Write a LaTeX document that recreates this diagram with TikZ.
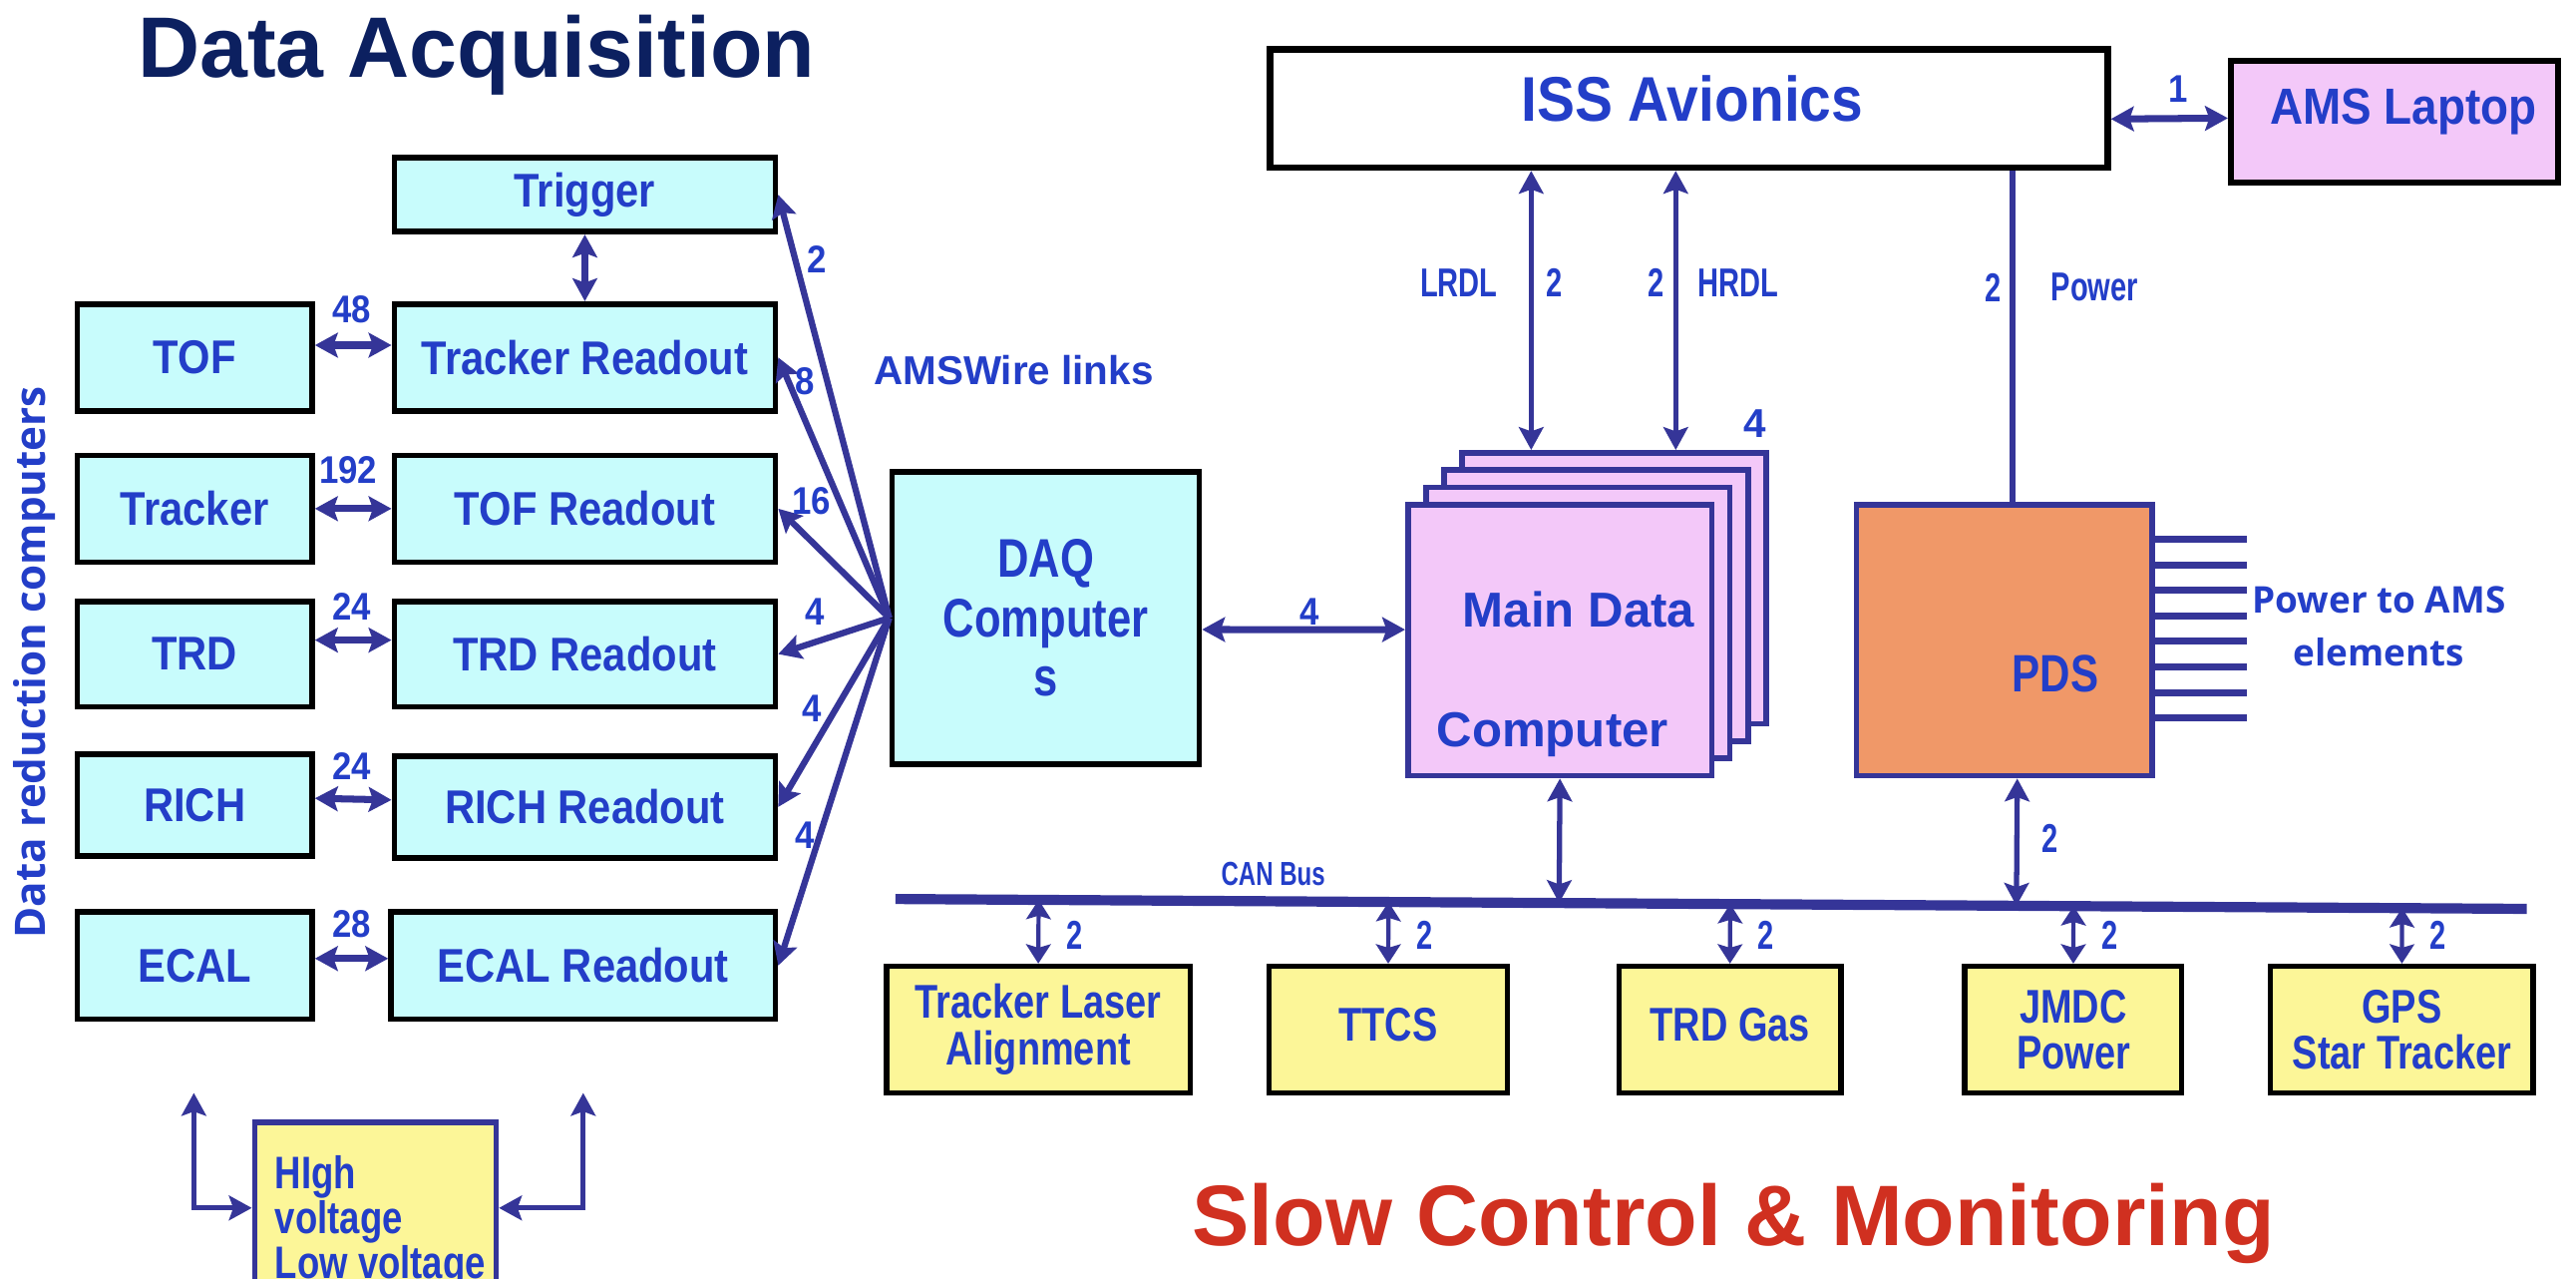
\documentclass[tikz,border=0pt]{standalone}
\usepackage{fontspec}
\setmainfont{Liberation Sans}
\newfontfamily\condf[FakeStretch=0.9]{Liberation Sans}
\newfontfamily\boxf[FakeStretch=0.88]{Liberation Sans}
\newfontfamily\narrowf[FakeStretch=0.8]{Liberation Sans}
\newfontfamily\vnarrowf[FakeStretch=0.72]{Liberation Sans}
\newfontfamily\opensf{Open Sans}
\usetikzlibrary{arrows.meta,calc}
\definecolor{navy}{RGB}{53,53,152}
\definecolor{txtblue}{RGB}{35,62,200}
\definecolor{cyanfill}{RGB}{200,252,252}
\definecolor{pinkfill}{RGB}{243,200,249}
\definecolor{yelfill}{RGB}{252,246,152}
\definecolor{orfill}{RGB}{240,152,104}
\definecolor{titlenavy}{RGB}{12,32,96}
\definecolor{titlered}{RGB}{208,48,32}
\def\pxu{0.016473cm}
\tikzset{
  bw/.style={minimum width=#1*\pxu},
  bh/.style={minimum height=#1*\pxu},
  cbox/.style={draw=black, line width=1.6pt, fill=cyanfill, inner sep=0pt, text=txtblue,
    font=\boxf\bfseries\fontsize{13.5}{15}\selectfont},
  ybox/.style={draw=black, line width=1.6pt, fill=yelfill, inner sep=0pt, text=txtblue, align=center,
    font=\narrowf\bfseries\fontsize{13.5}{13.3}\selectfont},
  nbox/.style={draw=navy, line width=1.6pt, inner sep=0pt},
  tip/.style={Stealth[length=6.5pt,width=7pt,inset=1.2pt]},
  dbl/.style={navy, line width=2pt, {Stealth[length=6.5pt,width=7pt,inset=1.2pt]}-{Stealth[length=6.5pt,width=7pt,inset=1.2pt]}},
  dblv/.style={navy, line width=1.5pt, {Stealth[length=6.5pt,width=7pt,inset=1.2pt]}-{Stealth[length=6.5pt,width=7pt,inset=1.2pt]}},
  dbls/.style={navy, line width=1.2pt, {Stealth[length=5.5pt,width=7pt,inset=1pt]}-{Stealth[length=5.5pt,width=7pt,inset=1pt]}},
  one/.style={navy, line width=1.8pt, -{Stealth[length=6.5pt,width=7pt,inset=1.2pt]}},
  num/.style={text=txtblue, inner sep=0pt, font=\condf\bfseries\fontsize{11}{13}\selectfont},
  lbl/.style={text=txtblue, inner sep=0pt, font=\vnarrowf\bfseries\fontsize{11.5}{13}\selectfont},
  btxt/.style={text=txtblue, inner sep=0pt},
}
\begin{document}
\begin{tikzpicture}[x=0.016473cm, y=-0.016473cm]
\useasboundingbox (0,0) rectangle (1568,778);
\clip (0,0) rectangle (1568,778);

% titles
\node[anchor=base, text=titlenavy, inner sep=0pt, font=\bfseries\fontsize{24.5}{28}\selectfont] (t1) at (290,47) {Data Acquisition};
\node[anchor=base, text=titlered, inner sep=0pt, font=\bfseries\fontsize{24.5}{28}\selectfont] (t2) at (1055,758) {Slow Control \& Monitoring};
\node[rotate=90, btxt, font=\opensf\bfseries\fontsize{12}{14}\selectfont] (drc) at (21,403) {Data reduction computers};

% left column
\node[cbox,bw=232,bh=45] (trig) at (356,118.5) {Trigger};
\node[cbox,bw=143,bh=65] (tof) at (118.5,217.5) {TOF};
\node[cbox,bw=232,bh=65] (trkro) at (356,217.5) {Tracker Readout};
\node[cbox,bw=143,bh=65] (trk) at (118.5,309.5) {Tracker};
\node[cbox,bw=232,bh=65] (tofro) at (356,309.5) {TOF Readout};
\node[cbox,bw=143,bh=64] (trd) at (118.5,398) {TRD};
\node[cbox,bw=232,bh=64] (trdro) at (356,398) {TRD Readout};
\node[cbox,bw=143,bh=62] (rich) at (118.5,490) {RICH};
\node[cbox,bw=232,bh=62] (richro) at (356,491) {RICH Readout};
\node[cbox,bw=143,bh=65] (ecal) at (118.5,587.5) {ECAL};
\node[cbox,bw=234,bh=65] (ecalro) at (355,587.5) {ECAL Readout};

\draw[dbl] (trig) -- (trkro);
\draw[dbl] ([yshift=3.5pt]tof.east) -- ([yshift=3.5pt]trkro.west);
\draw[dbl] (trk) -- (tofro);
\draw[dbl] ([yshift=4pt]trd.east) -- ([yshift=4pt]trdro.west);
\draw[dbl] ([yshift=2pt]rich.east) -- ([yshift=2pt]richro.west);
\draw[dbl] ([yshift=2pt]ecal.east) -- ([yshift=2pt]ecalro.west);
\node[num] (n48) at (214,188) {48};
\node[num] (n192) at (212,286) {192};
\node[num] (n24a) at (214,369) {24};
\node[num] (n24b) at (214,466) {24};
\node[num] (n28) at (214,562) {28};

% DAQ
\node[cbox,bw=187,bh=178,align=center,font=\narrowf\bfseries\fontsize{15.5}{17}\selectfont] (daq) at (636.5,376) {DAQ\\Computer\\s};
\draw[one] (daq.west) -- (trig.east);
\draw[one] (daq.west) -- (trkro.east);
\draw[one] (daq.west) -- (tofro.east);
\draw[one] (daq.west) -- (trdro.east);
\draw[one] (daq.west) -- (richro.east);
\draw[one] (daq.west) -- (ecalro.east);
\node[num] (f2) at (497,158) {2};
\node[num] (f8) at (490,232) {8};
\node[num] (f16) at (494,305) {16};
\node[num] (f4a) at (496,372) {4};
\node[num] (f4b) at (494,431) {4};
\node[num] (f4c) at (490,508) {4};
\node[btxt, font=\bfseries\fontsize{11.5}{13}\selectfont] (amsw) at (617,225) {AMSWire links};

% Main Data Computer stack
\foreach \i/\nm in {3/mdcc,2/mdcb,1/mdca}
  \node[nbox, fill=pinkfill, bw=185, bh=165] (\nm) at (949.5+11*\i, 389.5-10.5*\i) {};
\node[nbox, fill=pinkfill, bw=185, bh=165] (mdc) at (949.5,389.5) {};
\node[btxt, font=\bfseries\fontsize{14}{16}\selectfont] (mdt1) at (961,371) {Main Data};
\node[btxt, font=\bfseries\fontsize{14}{16}\selectfont] (mdt2) at (945,447) {Computer};
\node[btxt, font=\bfseries\fontsize{11.5}{13}\selectfont] (n4mdc) at (1068,258) {4};

\draw[dbl] ([yshift=-3.3pt]daq.east) -- ([yshift=3pt]mdc.west);
\node[num] (n4d) at (797,372) {4};

% ISS avionics and laptop
\node[draw=black, line width=1.8pt, fill=white, bw=510, bh=72] (iss) at (1028,66) {};
\node[btxt, font=\condf\bfseries\fontsize{18}{20}\selectfont] (isst) at (1030,60) {ISS Avionics};
\node[draw=black, line width=1.8pt, fill=pinkfill, bw=199, bh=74] (lap) at (1457.5,74) {};
\node[btxt, font=\condf\bfseries\fontsize{14.5}{16}\selectfont] (lapt) at (1463,68) {AMS Laptop};
\draw[dbl] ([yshift=-3pt]iss.east) -- ([yshift=1pt]lap.west);
\node[num] (n1) at (1326,54) {1};

% PDS
\node[nbox, fill=orfill, bw=180, bh=165] (pds) at (1220,389.5) {};
\node[btxt, font=\narrowf\bfseries\fontsize{15}{17}\selectfont] (pdst) at (1251,410) {PDS};
\foreach \k in {0,...,7}
  \draw[navy, line width=2pt] ($(pds.north east)+(0,{23+15.5*\k})$) -- ++(56,0);
\node[btxt, align=center, font=\opensf\bfseries\fontsize{10.5}{15}\selectfont] (ptams) at (1448,381) {Power to AMS\\elements};

% vertical links
\coordinate (lr) at (932,0);
\coordinate (hr) at (1020,0);
\coordinate (pw) at (1225,0);
\draw[dblv] (iss.south -| lr) -- (mdcc.north -| lr);
\draw[dblv] (iss.south -| hr) -- (mdcc.north -| hr);
\draw[navy, line width=1.5pt] (iss.south -| pw) -- (pds.north -| pw);
\node[lbl] (lrdl) at (888,172) {LRDL};
\node[lbl] (lr2) at (946,172) {2};
\node[lbl] (hr2) at (1008,172) {2};
\node[lbl] (hrdl) at (1058,172) {HRDL};
\node[lbl] (pw2) at (1213,175) {2};
\node[lbl] (pwr) at (1275,175) {Power};

% CAN bus
\coordinate (busL) at (545,547);
\coordinate (busR) at (1538,553);
\draw[navy, line width=2.9pt] (busL) -- (busR);
\node[btxt, font=\vnarrowf\bfseries\fontsize{9.5}{11}\selectfont] (canb) at (775,532) {CAN Bus};
\draw[dblv] (mdc.south) -- ($(busL)!(mdc.south)!(busR)$);
\draw[dblv] ([xshift=3.7pt]pds.south) -- ($(busL)!([xshift=3.7pt]pds.south)!(busR)$);
\node[lbl] (pds2) at (1248,510) {2};

% bottom boxes
\node[ybox,bw=185,bh=77] (tla) at (632,626.5) {Tracker Laser\\Alignment};
\node[ybox,bw=145,bh=77] (ttcs) at (845,626.5) {\raisebox{3pt}{TTCS}};
\node[ybox,bw=135,bh=77] (trdg) at (1053,626.5) {\raisebox{3pt}{TRD Gas}};
\node[ybox,bw=132,bh=77] (jmdc) at (1262,626.5) {JMDC\\Power};
\node[ybox,bw=160,bh=77] (gps) at (1462,626.5) {GPS\\Star Tracker};
\foreach \b in {tla,ttcs,trdg,jmdc,gps}{
  \draw[dbls] (\b.north) -- ($(busL)!(\b.north)!(busR)$);
  \node[lbl] at ($(\b.north)+(22,-17)$) {2};
}

% high / low voltage
\node[nbox, fill=yelfill, bw=147, bh=104] (hv) at (228.5,735) {};
\node[btxt, anchor=north west, align=left, font=\narrowf\bfseries\fontsize{13}{12.7}\selectfont] (hvt) at (167,703) {HIgh\\voltage\\Low voltage};
\coordinate (hvl) at (118,665);
\coordinate (hvr) at (355,665);
\draw[dblv] (hvl) |- (hv.west);
\draw[dblv] (hvr) |- (hv.east);
\end{tikzpicture}
\end{document}
